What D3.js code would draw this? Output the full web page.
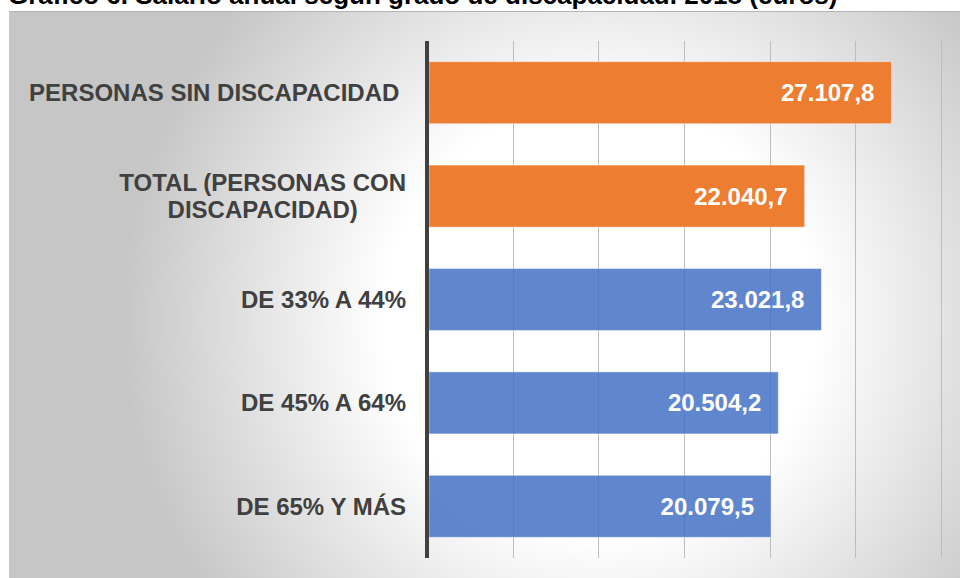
<!DOCTYPE html>
<html>
<head>
<meta charset="utf-8">
<script src="https://cdn.jsdelivr.net/npm/d3@7"></script>
<style>
  body { margin: 0; background: #fff; }
  svg { display: block; font-family: "Liberation Sans", Arial, sans-serif; }
</style>
</head>
<body>
<script>
// Datos
var categorias = ["PERSONAS SIN DISCAPACIDAD\u00a0", "TOTAL (PERSONAS CON|DISCAPACIDAD)", "DE 33% A 44%", "DE 45% A 64%", "DE 65% Y MÁS"];
var valores = [27107.8, 22040.7, 23021.8, 20504.2, 20079.5];
var grupos = ["naranja", "naranja", "azul", "azul", "azul"];
var ticks = [5000, 10000, 15000, 20000, 25000, 30000];
var titulo = "Gráfico 6. Salario anual según grado de discapacidad. 2018 (euros)";

var width = 960, height = 578;
var svg = d3.select("body").append("svg").attr("width", width).attr("height", height);

// Fondo con degradado radial
var defs = svg.append("defs");
var grad = defs.append("radialGradient").attr("id", "fondo")
  .attr("gradientUnits", "userSpaceOnUse")
  .attr("cx", 600).attr("cy", 320).attr("r", 480);
grad.append("stop").attr("offset", 0).attr("stop-color", "#ffffff");
grad.append("stop").attr("offset", 0.45).attr("stop-color", "#ffffff");
grad.append("stop").attr("offset", 1).attr("stop-color", "#c6c6c6");

svg.append("rect").attr("x", 9).attr("y", 11).attr("width", 951).attr("height", 567).attr("fill", "url(#fondo)");
svg.append("line").attr("x1", 9).attr("x2", 960).attr("y1", 11.5).attr("y2", 11.5).attr("stroke", "#b4b4b4");

// Título (cortado arriba, como en el original)
svg.append("text").attr("x", 8).attr("y", 4)
  .attr("font-size", 26).attr("font-weight", "bold").attr("fill", "#000")
  .text(titulo);

// Escalas
var xScale = d3.scaleLinear().domain([0, 30000]).range([427, 941]);
var yScale = d3.scaleBand().domain(categorias).range([41, 558]).paddingInner(0.4).paddingOuter(0.2);

// Rejilla
svg.selectAll(".grid").data(ticks).enter().append("line")
  .attr("class", "grid")
  .attr("x1", function(d) { return Math.round(xScale(d)) + 0.5; })
  .attr("x2", function(d) { return Math.round(xScale(d)) + 0.5; })
  .attr("y1", 41).attr("y2", 558)
  .attr("stroke", "#bdbdbd").attr("stroke-width", 1);

// Barras
svg.selectAll(".bar").data(valores).enter().append("rect")
  .attr("class", "bar")
  .attr("x", xScale(0) + 2)
  .attr("y", function(d, i) { return yScale(categorias[i]); })
  .attr("width", function(d) { return xScale(d) - xScale(0) - 2; })
  .attr("height", yScale.bandwidth())
  .attr("fill", function(d, i) { return grupos[i] === "naranja" ? "#ed7d31" : "#4472c4"; })
  .attr("fill-opacity", function(d, i) { return grupos[i] === "naranja" ? 1 : 0.85; })
  .attr("stroke", "#ffffff").attr("stroke-opacity", 0.45).attr("stroke-width", 1);

// Etiquetas de valor
var fmt = function(v) {
  var s = d3.format(",.1f")(v);
  return s.replace(/,/g, "#").replace(".", ",").replace(/#/g, ".");
};
svg.selectAll(".valor").data(valores).enter().append("text")
  .attr("class", "valor")
  .attr("x", function(d) { return xScale(d) - 17; })
  .attr("y", function(d, i) { return yScale(categorias[i]) + yScale.bandwidth() / 2; })
  .attr("dy", "0.35em")
  .attr("text-anchor", "end")
  .attr("font-size", 24).attr("font-weight", "bold").attr("fill", "#ffffff")
  .text(fmt);

// Etiquetas de categoría
categorias.forEach(function(c) {
  var lineas = c.split("|");
  var cy = yScale(c) + yScale.bandwidth() / 2;
  var t = svg.append("text")
    .attr("font-size", 24).attr("font-weight", "bold").attr("fill", "#404040")
    .attr("text-anchor", lineas.length > 1 ? "middle" : "end");
  lineas.forEach(function(l, j) {
    t.append("tspan")
      .attr("x", 0)
      .attr("y", cy + (j - (lineas.length - 1) / 2) * 27.5)
      .attr("dy", "0.35em")
      .text(l);
  });
  if (lineas.length > 1) {
    var w = t.node().getBBox().width;
    t.selectAll("tspan").attr("x", 406 - w / 2);
  } else {
    t.selectAll("tspan").attr("x", 406);
  }
});

// Eje vertical
svg.append("line")
  .attr("x1", xScale(0)).attr("x2", xScale(0))
  .attr("y1", 41).attr("y2", 558)
  .attr("stroke", "#404040").attr("stroke-width", 4);
</script>
</body>
</html>
